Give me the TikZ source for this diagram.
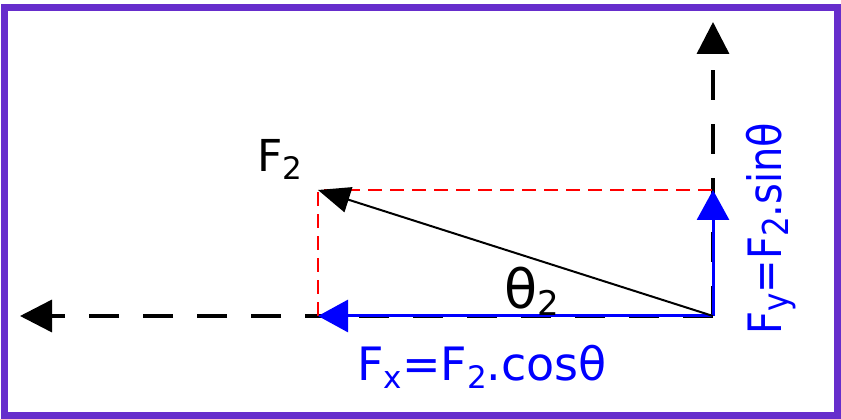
\documentclass[tikz,border=0pt]{standalone}
\usepackage{fontspec}
\setmainfont{DejaVu Sans}
\usetikzlibrary{arrows.meta}
\definecolor{framec}{RGB}{102,45,204}
\definecolor{bluec}{RGB}{0,0,255}
\definecolor{redc}{RGB}{255,0,0}
\tikzset{
  blackdash/.style={draw=black, line width=3.5pt, dash pattern=on 30pt off 24pt, -{Triangle[length=32pt,width=32pt]}},
  reddash/.style={draw=redc, line width=2pt, dash pattern=on 14pt off 8pt},
  bluearrow/.style={draw=bluec, fill=bluec, line width=3pt, -{Triangle[length=30pt,width=32pt]}},
  forcearrow/.style={draw=black, line width=2pt, -{Triangle[length=32pt,width=26pt]}},
  lab/.style={inner sep=0pt, font=\fontsize{46}{50}\selectfont},
}
\newcommand{\sub}[1]{\raisebox{-0.17em}{\fontsize{31}{34}\selectfont #1}}
\begin{document}
\begin{tikzpicture}[x=1pt,y=-1pt]
\useasboundingbox (0,0) rectangle (841,419);
\draw[framec, line width=7pt] (4.5,8) rectangle (837.5,416);
\coordinate (O) at (713,316);
\coordinate (T) at (318,190);
\coordinate (C) at (713,190);
\coordinate (B) at (318,316);
\coordinate (L) at (20,316);
\coordinate (U) at (713,22);
\draw[blackdash] (O) -- (L);
\draw[blackdash] (O) -- (U);
\draw[reddash] (B) -- (T) -- (C);
\draw[bluearrow] (O) -- (B);
\draw[bluearrow] (O) -- (C);
\draw[forcearrow] (O) -- (T);
\node[lab, anchor=base west, font=\fontsize{44}{48}\selectfont] (f2) at (257,172) {F\sub{2}};
\node[inner sep=0pt, anchor=base west, font=\fontsize{54}{58}\selectfont] (th) at (504,309) {θ\raisebox{-0.12em}{\fontsize{34}{36}\selectfont 2}};
\node[lab, text=bluec, anchor=base west] (fx) at (357,381) {F\sub{x}=F\sub{2}.cosθ};
\node[lab, text=bluec, anchor=base west, rotate=90, font=\fontsize{40}{44}\selectfont] (fy) at (781,335) {\scalebox{1}[1.15]{F\sub{y}=F\sub{2}.sinθ}};
\end{tikzpicture}
\end{document}
